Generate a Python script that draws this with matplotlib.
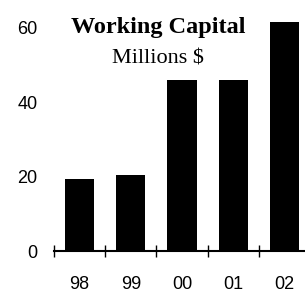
import matplotlib
matplotlib.use("Agg")
import matplotlib.pyplot as plt

categories = ["98", "99", "00", "01", "02"]
values = [19.2, 20.3, 46.0, 46.0, 61.6]
yticks = [0, 20, 40, 60]

W, H = 305, 292
fig = plt.figure(figsize=(W / 100, H / 100), dpi=100)
ax = fig.add_axes([54 / W, (H - 251) / H, 1 - 54 / W, 251 / H])

x = list(range(len(categories)))
ax.bar(x, values, width=0.57, color="black")
ax.set_xlim(-0.5, 4.4)
ax.set_ylim(0, 67.4)

for s in ["left", "top", "right"]:
    ax.spines[s].set_visible(False)
ax.spines["bottom"].set_linewidth(1.5)

ax.set_xticks([i - 0.5 for i in x])
ax.set_xticklabels([])
ax.tick_params(axis="x", which="major", direction="inout", length=8, width=1.0)
ax.set_xticks(x, minor=True)
ax.set_xticklabels(categories, minor=True, fontfamily="Liberation Sans", fontsize=13)
ax.tick_params(axis="x", which="minor", length=0, pad=18)

ax.set_yticks(yticks)
ax.set_yticklabels([str(v) for v in yticks], fontfamily="Liberation Sans", fontsize=13)
ax.tick_params(axis="y", length=0, pad=12)

fig.text(158 / W, 1 - 28 / H, "Working Capital", ha="center", va="center",
         fontfamily="Liberation Serif", fontweight="bold", fontsize=17.5)
fig.text(158 / W, 1 - 59 / H, "Millions $", ha="center", va="center",
         fontfamily="Liberation Serif", fontsize=16)

fig.savefig("out.png", dpi=100)
